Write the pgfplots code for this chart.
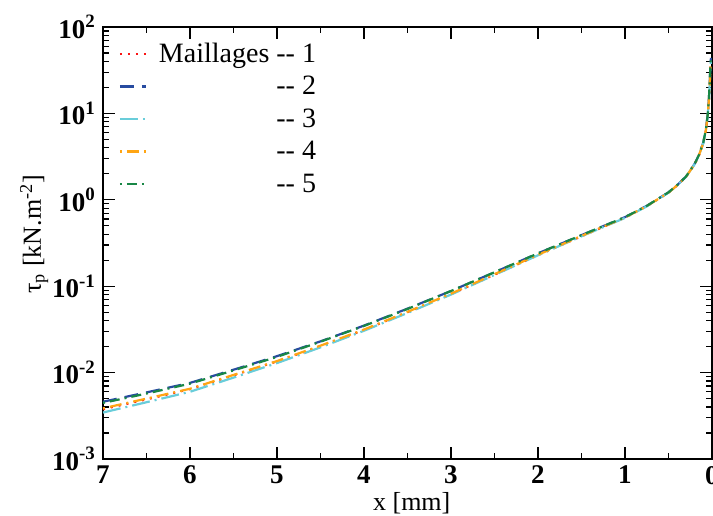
\documentclass[border=0pt]{standalone}
\usepackage{fontspec}
\setmainfont{Liberation Serif}
\usepackage{pgfplots}
\usepackage{pgfplotstable}
\pgfplotsset{compat=1.18}
\definecolor{cred}{RGB}{250,20,20}
\definecolor{cblue}{RGB}{40,75,160}
\definecolor{ccyan}{RGB}{105,205,218}
\definecolor{corange}{RGB}{255,165,20}
\definecolor{cgreen}{RGB}{25,135,70}
\pgfplotstableread{
x     b        g        o        r        c
7.0   4.60e-3  4.46e-3  3.86e-3  3.77e-3  3.45e-3
6.5   5.90e-3  5.72e-3  5.00e-3  4.90e-3  4.54e-3
6.0   7.60e-3  7.45e-3  6.50e-3  6.45e-3  6.00e-3
5.5   1.08e-2  1.06e-2  9.40e-3  9.30e-3  8.75e-3
5.0   1.55e-2  1.52e-2  1.36e-2  1.35e-2  1.29e-2
4.5   2.30e-2  2.28e-2  2.05e-2  2.02e-2  1.96e-2
4.0   3.50e-2  3.47e-2  3.15e-2  3.12e-2  3.05e-2
3.5   5.50e-2  5.45e-2  5.05e-2  5.00e-2  4.90e-2
3.0   8.80e-2  8.80e-2  8.20e-2  8.10e-2  8.00e-2
2.5   0.145    0.145    0.138    0.136    0.135
2.0   0.240    0.240    0.231    0.229    0.228
1.5   0.390    0.390    0.382    0.378    0.378
1.0   0.630    0.630    0.624    0.624    0.617
0.75  0.850    0.850    0.845    0.845    0.840
0.5   1.22     1.22     1.21     1.21     1.21
0.4   1.48     1.48     1.47     1.47     1.47
0.3   1.85     1.85     1.84     1.84     1.84
0.2   2.60     2.60     2.58     2.58     2.58
0.15  3.30     3.30     3.28     3.28     3.28
0.1   4.60     4.60     4.55     4.55     4.55
0.07  6.50     6.50     6.40     6.40     6.40
0.05  9.50     9.50     9.30     9.30     9.30
0.035 15.0     15.0     14.6     14.6     14.6
0.025 24.0     24.0     23.0     23.0     23.0
0.018 35.0     36.0     33.0     33.0     33.0
0.012 44.0     46.0     40.0     41.0     40.0
}\datatable
\begin{document}
\begin{tikzpicture}
\begin{axis}[
  scale only axis,
  width=304.5pt, height=216pt,
  xmin=0, xmax=7, x dir=reverse,
  ymode=log, ymin=1e-3, ymax=1e2,
  xtick={0,1,2,3,4,5,6,7},
  xticklabels={0,1,2,3,4,5,6,7},
  minor x tick num=1,
  ytick={1e-3,1e-2,1e-1,1,1e1,1e2},
  yticklabels={10\textsuperscript{-3},10\textsuperscript{-2},10\textsuperscript{-1},10\textsuperscript{0},10\textsuperscript{1},10\textsuperscript{2}},
  tick align=inside,
  major tick length=6pt, minor tick length=3pt,
  axis line style={line width=1pt},
  every tick/.style={black, line width=0.6pt},
  tick label style={font=\fontsize{13.5}{15}\selectfont\bfseries},
  xlabel={x [mm]},
  ylabel={τ\textsubscript{p} [kN.m\textsuperscript{-2}]},
  label style={font=\fontsize{13}{15}\selectfont},
  xlabel style={at={(axis description cs:0.507,-0.102)}, anchor=center},
  ylabel style={at={(axis description cs:-0.113,0.52)}, anchor=center},
  legend style={draw=none, fill=none, at={(axis description cs:0.022,0.978)}, anchor=north west,
    font=\fontsize{14}{16}\selectfont, row sep=1pt, inner sep=1pt},
  legend cell align=left,
  legend image code/.code={\draw[#1] (0pt,0pt) -- (13pt,0pt); \path (17pt,0pt);},
  every axis plot/.append style={line width=1.1pt},
]
\addplot[cred, dash pattern=on 1pt off 3pt] table[x=x,y=r]{\datatable};
\addlegendentry{Maillages -{}- 1}
\addplot[cblue, dash pattern=on 7pt off 4pt] table[x=x,y=b]{\datatable};
\addlegendentry{\phantom{Maillages} -{}- 2}
\addplot[ccyan, dash pattern=on 9pt off 2.5pt on 1pt off 2.5pt] table[x=x,y=c]{\datatable};
\addlegendentry{\phantom{Maillages} -{}- 3}
\addplot[corange, dash pattern=on 1pt off 2.5pt on 6pt off 2.5pt] table[x=x,y=o]{\datatable};
\addlegendentry{\phantom{Maillages} -{}- 4}
\addplot[cgreen, dash pattern=on 1pt off 2.5pt on 5pt off 2.5pt] table[x=x,y=g]{\datatable};
\addlegendentry{\phantom{Maillages} -{}- 5}
\end{axis}
\pgfresetboundingbox
\path (current axis.south west) ++(-51.5pt,-28pt) rectangle ++(356.5pt,257.5pt);
\end{tikzpicture}
\end{document}
